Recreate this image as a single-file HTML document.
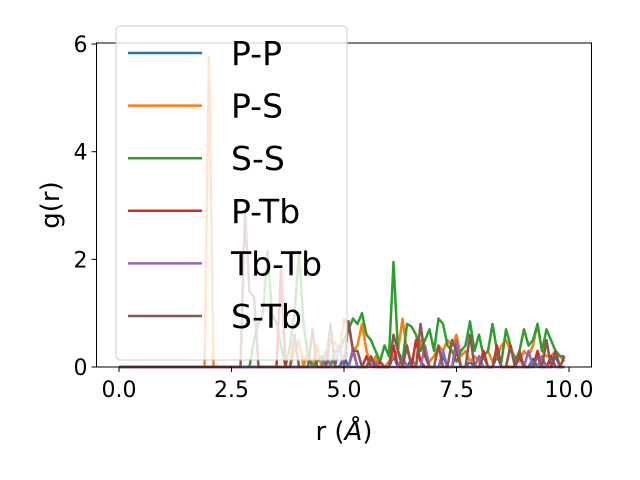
<!DOCTYPE html>
<html><head><meta charset="utf-8"><style>
body{margin:0;background:#fff}
svg{display:block;font-family:"DejaVu Sans","Liberation Sans",sans-serif}
</style></head><body>
<svg id="chart" width="640" height="480" viewBox="0 0 640 480"></svg>
<script>
const seriesNames=["P-P","P-S","S-S","P-Tb","Tb-Tb","S-Tb"];
const seriesColors=["#1f77b4","#ff7f0e","#2ca02c","#d62728","#9467bd","#8c564b"];
const xTicks=[0,2.5,5,7.5,10];
const xTickLabels=["0.0","2.5","5.0","7.5","10.0"];
const yTicks=[0,2,4,6];
const yTickLabels=["0","2","4","6"];
const rStep=0.1;
const ppVals=[0,0,0,0,0,0,0,0,0,0, 0,0,0,0,0,0,0,0,0,0, 0,0,0,0,0,0,0,0,0,0, 0,0,0,0,0,0,0,0,0,0, 0,0,0,0,0,0,0,0,0,0,
0.2,0,0,0,0,0,0.15,0,0,0, 0,0.2,0,0,0,0.15,0,0,0,0, 0,0,0.2,0,0,0,0,0,0.1,0, 0,0,0,0,0.2,0,0,0,0,0, 0,0,0.15,0,0,0,0,0.2,0,0];
const psVals=[0,0,0,0,0,0,0,0,0,0, 0,0,0,0,0,0,0,0,0,0, 5.75,0,0,0,0,0,0,0,0,0, 0,0,0,0,0,0,0,0,0,0.3, 0.5,0,0.3,0,0.4,0,0,0.5,0.45,0.3,
0.9,0.8,0.3,0.4,0.8,0.3,0,0.2,0,0, 0.1,0.2,0.3,0.9,0.3,0.1,0,0.5,0.2,0.1, 0.2,0.4,0.3,0.5,0.4,0.6,0.2,0.3,0.1,0.2, 0.1,0.2,0.3,0.1,0.2,0.4,0.5,0.3,0.2,0.1, 0.3,0.2,0.4,0.8,0.3,0.2,0.2,0.3,0.2,0.1];
const ssVals=[0,0,0,0,0,0,0,0,0,0, 0,0,0,0,0,0,0,0,0,0, 0,0,0,0,0,0,0,0,0,0, 0.5,0.8,1.0,2.15,1.0,0.8,0.4,0,0.4,1.0, 2.15,0.8,0.2,0,0.1,0.2,0,0,0.3,0.3,
0.5,0.7,0.9,0.8,1.0,0.6,0.5,0.3,0.1,0.4, 0.2,1.95,0.3,0.1,0.8,0.75,0.6,0.3,0.5,0.7, 0.3,0.9,0.8,0.4,0.3,0.1,0.3,0.4,0.85,0.3, 0.6,0.2,0.3,0.8,0.3,0.1,0.7,0.4,0.1,0.3, 0.7,0.4,0.5,0.8,0.3,0.7,0.5,0.3,0.2,0.2];
const ptbVals=[0,0,0,0,0,0,0,0,0,0, 0,0,0,0,0,0,0,0,0,0, 0,0,0,0,0,0,0,0,0,0, 0,0,0,0,0,0,1.8,0,0,0, 0,0,0,0,0,0,0,0,0,0,
0,0,0.3,0,0,0.2,0,0,0.1,0, 0,0.4,0,0,0,0,0.5,0.1,0,0, 0,0,0,0,0,0.3,0,0,0,0, 0,0.3,0,0,0.4,0,0,0,0,0.2, 0,0,0,0.3,0,0,0.2,0,0,0];
const tbtbVals=[0,0,0,0,0,0,0,0,0,0, 0,0,0,0,0,0,0,0,0,0, 0,0,0,0,0,0,0,0,0,0, 0,0,0,0,0,0,0,0,0,0, 0,0,0,0,0,0,0.3,0,0,0.4,
0,0,0.35,0,0,0,0,0.1,0,0, 0,0,0,0.2,0,0,0,0,0.4,0, 0,0,0.3,0,0,0.5,0,0,0,0, 0.2,0,0,0,0,0,0,0.4,0,0, 0,0.3,0,0,0.2,0,0,0,0,0];
const stbVals=[0,0,0,0,0,0,0,0,0,0, 0,0,0,0,0,0,0,0,0,0, 0,0,0,0,0,0,0,0,2.9,1.4, 1.3,0,0,0,0,0,0,0,0,0.6, 0,0,0,0.7,0,0,0,0.8,0,0,
0,0.85,0.3,0.3,0,0,0.2,0,0,0, 0,0.6,0.3,0,0.4,0,0,0.8,0.2,0, 0,0.4,0,0,0.5,0.3,0,0,0.6,0, 0,0.2,0,0,0.3,0,0,0.4,0,0.3, 0,0,0,0.2,0,0.5,0,0.3,0,0.2];
const allSeries=[ppVals,psVals,ssVals,ptbVals,tbtbVals,stbVals];

const NS="http://www.w3.org/2000/svg";
const svg=document.getElementById("chart");
const L=96.5,R=591.5,T=43,B=367;
const xMin=-0.5,xMax=10.5,yMin=0,yMax=6.02;
function xs(v){return L+(v-xMin)/(xMax-xMin)*(R-L);}
function ys(v){return B-(v-yMin)/(yMax-yMin)*(B-T);}
function mk(tag,attrs,parent){const e=document.createElementNS(NS,tag);for(const k in attrs)e.setAttribute(k,attrs[k]);(parent||svg).appendChild(e);return e;}

const plot=mk("g",{});


allSeries.forEach((vals,si)=>{
  const pts=vals.map((v,i)=>xs(i*rStep).toFixed(1)+","+ys(v).toFixed(1)).join(" ");
  const pl=mk("polyline",{points:pts,fill:"none",stroke:seriesColors[si],"stroke-width":2.5,"stroke-linejoin":"round"},plot);
  
  
});

const frame=mk("rect",{x:L,y:T,width:R-L,height:B-T,fill:"none",stroke:"#000","stroke-width":1});



xTicks.forEach((t,i)=>{
  mk("line",{x1:xs(t),x2:xs(t),y1:B,y2:B+5,stroke:"#000"});
  const tx=mk("text",{x:xs(t),y:B+30,"text-anchor":"middle","font-size":22});
  tx.textContent=xTickLabels[i];
  
  
});
yTicks.forEach((t,i)=>{
  mk("line",{x1:L-5,x2:L,y1:ys(t),y2:ys(t),stroke:"#000"});
  const tx=mk("text",{x:L-9,y:ys(t)+8,"text-anchor":"end","font-size":22});
  tx.textContent=yTickLabels[i];
  
  
});
const xl=mk("text",{x:344,y:440,"text-anchor":"middle","font-size":26});
xl.innerHTML='r (<tspan font-style="italic">Å</tspan>)';


const yl=mk("text",{x:0,y:0,"text-anchor":"middle","font-size":26,transform:"translate(59,205) rotate(-90)"});
yl.textContent="g(r)";



const leg=mk("g",{});


mk("rect",{x:116,y:26,width:231,height:334,rx:4,fill:"#fff","fill-opacity":0.8,stroke:"#ccc","stroke-width":1},leg);
seriesNames.forEach((n,i)=>{
  const y=53+i*52.6;
  const g=mk("g",{},leg);
  
  
  mk("line",{x1:128,x2:202,y1:y,y2:y,stroke:seriesColors[i],"stroke-width":2.5},g);
  const t=mk("text",{x:231,y:y+12,"font-size":33},g);
  t.textContent=n;
});
</script>
</body></html>
